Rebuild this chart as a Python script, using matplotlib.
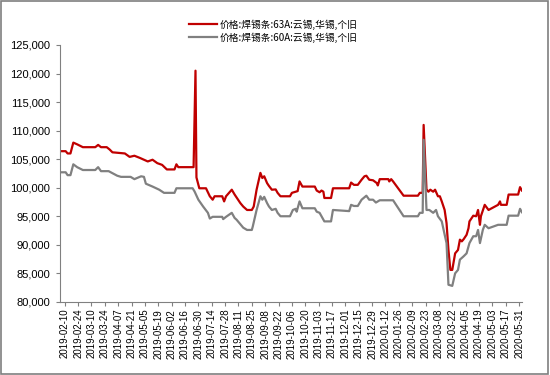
"""Solder bar price chart: 63A vs 60A (Yunxi, Huaxi, Gejiu)."""

import matplotlib

matplotlib.use("Agg")

import matplotlib.dates as mdates
import matplotlib.pyplot as plt
import pandas as pd
from matplotlib.patches import Rectangle
from matplotlib.ticker import FuncFormatter, MultipleLocator

plt.rcParams["font.family"] = ["Liberation Sans", "Noto Sans CJK SC", "DejaVu Sans"]

LABEL_63A = "价格:焊锡条:63A:云锡,华锡,个旧"
LABEL_60A = "价格:焊锡条:60A:云锡,华锡,个旧"

dates_63a = [
    "2019-02-05", "2019-02-11", "2019-02-13", "2019-02-16", "2019-02-19",
    "2019-02-23", "2019-03-01", "2019-03-14", "2019-03-17", "2019-03-20",
    "2019-03-26", "2019-03-29", "2019-04-01", "2019-04-14", "2019-04-19",
    "2019-04-24", "2019-04-30", "2019-05-08", "2019-05-13", "2019-05-18",
    "2019-05-23", "2019-05-28", "2019-06-05", "2019-06-07", "2019-06-09",
    "2019-06-25", "2019-06-27", "2019-06-28", "2019-07-01", "2019-07-08",
    "2019-07-12", "2019-07-15", "2019-07-17", "2019-07-25", "2019-07-27",
    "2019-07-29", "2019-08-04", "2019-08-07", "2019-08-09", "2019-08-13",
    "2019-08-16", "2019-08-20", "2019-08-25", "2019-08-27", "2019-08-30",
    "2019-09-03", "2019-09-05", "2019-09-07", "2019-09-10", "2019-09-12",
    "2019-09-15", "2019-09-19", "2019-09-21", "2019-09-24", "2019-10-04",
    "2019-10-06", "2019-10-12", "2019-10-14", "2019-10-17", "2019-10-30",
    "2019-11-01", "2019-11-04", "2019-11-06", "2019-11-08", "2019-11-09",
    "2019-11-16", "2019-11-18", "2019-12-05", "2019-12-07", "2019-12-10",
    "2019-12-14", "2019-12-18", "2019-12-21", "2019-12-23", "2019-12-26",
    "2019-12-30", "2020-01-03", "2020-01-04", "2020-01-06", "2020-01-15",
    "2020-01-16", "2020-01-18", "2020-01-20", "2020-01-31", "2020-02-15",
    "2020-02-17", "2020-02-20", "2020-02-21", "2020-02-24", "2020-02-26",
    "2020-02-28", "2020-03-02", "2020-03-04", "2020-03-07", "2020-03-09",
    "2020-03-11", "2020-03-14", "2020-03-16", "2020-03-18", "2020-03-20",
    "2020-03-22", "2020-03-25", "2020-03-28", "2020-03-30", "2020-04-01",
    "2020-04-03", "2020-04-06", "2020-04-08", "2020-04-09", "2020-04-13",
    "2020-04-16", "2020-04-18", "2020-04-20", "2020-04-21", "2020-04-25",
    "2020-04-29", "2020-05-04", "2020-05-09", "2020-05-11", "2020-05-12",
    "2020-05-18", "2020-05-20", "2020-05-30", "2020-06-01", "2020-06-03",
]
price_63a = [
    106400, 106400, 106000, 106000, 107900,
    107600, 107100, 107100, 107500, 107100,
    107100, 106700, 106200, 106000, 105400,
    105600, 105200, 104600, 104900, 104300,
    104000, 103200, 103200, 104100, 103600,
    103600, 120500, 101800, 99900, 99900,
    98500, 97900, 98500, 98500, 97600,
    98500, 99650, 98800, 98300, 97300,
    96700, 96100, 96100, 96700, 99650,
    102600, 101700, 102000, 100800, 100300,
    99650, 99700, 99100, 98500, 98500,
    99100, 99400, 101100, 100200, 100200,
    99500, 99200, 99500, 99300, 98200,
    98200, 99900, 99900, 100900, 100500,
    100500, 101400, 102000, 102100, 101400,
    101300, 100800, 100400, 101500, 101500,
    101100, 101500, 101100, 98600, 98600,
    99100, 99100, 111000, 99700, 99300,
    99650, 99300, 99650, 98500, 98500,
    97600, 96100, 93800, 89100, 85600,
    85600, 88500, 89100, 90900, 90600,
    91000, 91750, 92900, 94100, 95100,
    95000, 96100, 93500, 95000, 97000,
    96100, 96550, 97000, 97600, 97000,
    97000, 98800, 98800, 100100, 99500,
]

dates_60a = [
    "2019-02-05", "2019-02-11", "2019-02-13", "2019-02-16", "2019-02-19",
    "2019-02-23", "2019-03-01", "2019-03-14", "2019-03-17", "2019-03-20",
    "2019-03-28", "2019-04-06", "2019-04-10", "2019-04-20", "2019-04-24",
    "2019-05-01", "2019-05-04", "2019-05-06", "2019-05-13", "2019-05-20",
    "2019-05-25", "2019-06-05", "2019-06-07", "2019-06-24", "2019-06-26",
    "2019-06-30", "2019-07-05", "2019-07-10", "2019-07-12", "2019-07-15",
    "2019-07-25", "2019-07-26", "2019-07-29", "2019-08-04", "2019-08-07",
    "2019-08-09", "2019-08-13", "2019-08-16", "2019-08-20", "2019-08-25",
    "2019-08-26", "2019-08-30", "2019-09-03", "2019-09-05", "2019-09-07",
    "2019-09-10", "2019-09-12", "2019-09-15", "2019-09-19", "2019-09-21",
    "2019-09-24", "2019-10-04", "2019-10-07", "2019-10-10", "2019-10-11",
    "2019-10-13", "2019-10-14", "2019-10-17", "2019-10-30", "2019-11-01",
    "2019-11-04", "2019-11-09", "2019-11-16", "2019-11-18", "2019-12-05",
    "2019-12-07", "2019-12-10", "2019-12-14", "2019-12-18", "2019-12-23",
    "2019-12-26", "2019-12-30", "2020-01-02", "2020-01-04", "2020-01-06",
    "2020-01-20", "2020-01-31", "2020-02-15", "2020-02-17", "2020-02-20",
    "2020-02-21", "2020-02-24", "2020-02-27", "2020-03-02", "2020-03-05",
    "2020-03-07", "2020-03-11", "2020-03-14", "2020-03-16", "2020-03-18",
    "2020-03-22", "2020-03-25", "2020-03-28", "2020-03-30", "2020-04-03",
    "2020-04-06", "2020-04-09", "2020-04-13", "2020-04-16", "2020-04-18",
    "2020-04-20", "2020-04-23", "2020-04-25", "2020-04-29", "2020-05-04",
    "2020-05-09", "2020-05-18", "2020-05-20", "2020-05-30", "2020-06-01",
    "2020-06-03",
]
price_60a = [
    102700, 102700, 102200, 102200, 104100,
    103600, 103100, 103100, 103600, 102900,
    102900, 102100, 101900, 101900, 101500,
    102000, 101900, 100700, 100200, 99650,
    99100, 99100, 99900, 99900, 99350,
    97900, 96700, 95600, 94600, 94900,
    94900, 94500, 94900, 95600, 94700,
    94400, 93600, 93000, 92600, 92600,
    93200, 96100, 98500, 97900, 98400,
    97300, 96700, 96100, 96300, 95600,
    95000, 95000, 96100, 96300, 95800,
    97000, 97600, 96400, 96400, 95800,
    95600, 94100, 94100, 96100, 95900,
    97000, 96800, 96800, 97900, 98600,
    97900, 97900, 97400, 97600, 97800,
    97800, 95000, 95000, 95600, 95600,
    108400, 96100, 96100, 95600, 96100,
    95000, 94100, 91800, 90300, 83000,
    82800, 85000, 85600, 87400, 88000,
    88500, 90300, 91500, 91500, 92600,
    90300, 92600, 93500, 92900, 93200,
    93500, 93500, 95100, 95100, 96300,
    95700,
]

tick_dates = pd.date_range("2019-02-10", "2020-05-31", freq="14D")


def main():
    """Draw the two price lines and save out.png."""
    fig = plt.figure(figsize=(5.5, 3.75), dpi=100)
    ax = fig.add_axes([0.109, 0.195, 0.84, 0.685])

    ax.plot(pd.to_datetime(dates_63a), price_63a, color="#C00000", lw=1.6,
            label=LABEL_63A)
    ax.plot(pd.to_datetime(dates_60a), price_60a, color="#808080", lw=1.6,
            label=LABEL_60A)

    ax.set_xlim(pd.Timestamp("2019-02-05"), pd.Timestamp("2020-06-03"))
    ax.set_ylim(80000, 125000)
    ax.yaxis.set_major_locator(MultipleLocator(5000))
    ax.yaxis.set_major_formatter(FuncFormatter(lambda v, _: f"{v:,.0f}"))
    ax.set_xticks(tick_dates)
    ax.xaxis.set_major_formatter(mdates.DateFormatter("%Y-%m-%d"))
    ax.tick_params(axis="x", labelrotation=90, labelsize=7, length=3,
                   color="#808080", pad=2)
    ax.tick_params(axis="y", labelsize=8, length=3, color="#808080", pad=4)

    for side in ("top", "right"):
        ax.spines[side].set_visible(False)
    for side in ("left", "bottom"):
        ax.spines[side].set_color("#808080")

    leg = fig.legend(loc="upper center", bbox_to_anchor=(0.497, 0.972),
                     frameon=False, fontsize=7, handlelength=2.8,
                     labelspacing=0.25, handletextpad=0.3)
    for text in leg.get_texts():
        text.set_family(["Noto Sans CJK SC", "DejaVu Sans"])

    fig.patches.append(Rectangle((0.002, 0.003), 0.995, 0.994,
                                 transform=fig.transFigure, fill=False,
                                 edgecolor="#7f7f7f", lw=1.2))

    fig.savefig("out.png", dpi=100)
    plt.close(fig)


if __name__ == "__main__":
    main()
